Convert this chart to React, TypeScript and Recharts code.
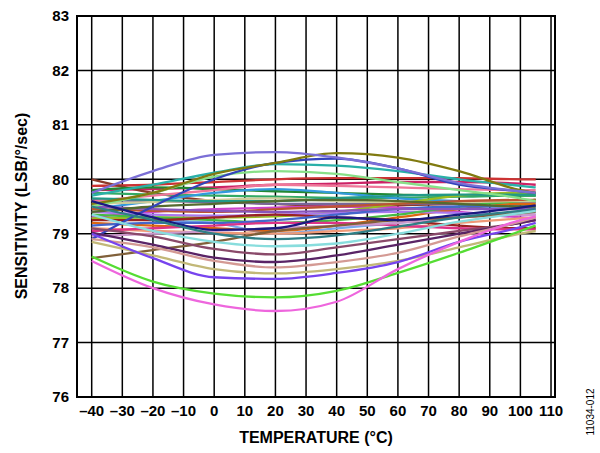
import React from "react";
import { LineChart, Line, XAxis, YAxis, CartesianGrid, ReferenceArea } from "recharts";

const TEMPS = [-40, -20, 0, 20, 40, 60, 80, 100, 105];
const X_TICKS = [-40, -30, -20, -10, 0, 10, 20, 30, 40, 50, 60, 70, 80, 90, 100, 110];
const Y_TICKS = [76, 77, 78, 79, 80, 81, 82, 83];

// series values at TEMPS
const pink = [78.5, 78.0, 77.7, 77.58, 77.75, 78.35, 78.85, 79.25, 79.32];
const green = [78.58, 78.12, 77.9, 77.83, 77.95, 78.28, 78.65, 79.05, 79.15];
const violet = [79.0, 78.55, 78.2, 78.17, 78.28, 78.48, 78.85, 79.12, 79.2];
const tan = [78.85, 78.6, 78.35, 78.27, 78.35, 78.5, 78.75, 79.0, 79.05];
const rosy = [78.9, 78.75, 78.5, 78.38, 78.48, 78.65, 78.95, 79.22, 79.3];
const darkPurple = [79.02, 78.8, 78.56, 78.48, 78.6, 78.8, 79.0, 79.2, 79.25];
const mauve = [79.1, 78.95, 78.72, 78.62, 78.75, 78.9, 79.05, 79.2, 79.25];
const lightCyan = [79.35, 79.05, 78.85, 78.77, 78.82, 79.0, 79.22, 79.38, 79.42];
const darkTeal = [79.5, 79.25, 79.0, 78.9, 78.97, 79.13, 79.3, 79.42, 79.45];
const brown = [78.55, 78.7, 78.85, 79.05, 79.15, 79.25, 79.3, 79.38, 79.4];
const navy = [79.6, 79.3, 79.07, 79.1, 79.3, 79.25, 79.35, 79.48, 79.52];
const lavender = [79.75, 80.15, 80.45, 80.5, 80.4, 80.2, 79.93, 79.78, 79.75];
const olive = [79.55, 79.75, 80.1, 80.3, 80.48, 80.4, 80.15, 79.8, 79.75];
const teal = [79.7, 79.9, 80.12, 80.28, 80.25, 80.15, 80.0, 79.88, 79.85];
const lightGreen = [79.5, 79.75, 80.05, 80.15, 80.1, 79.95, 79.8, 79.65, 79.6];
const royal = [78.9, 79.5, 80.0, 80.3, 80.38, 80.2, 79.9, 79.78, 79.75];
const red = [79.88, 79.9, 79.95, 80.0, 80.02, 80.02, 80.02, 80.0, 80.0];
const crimson = [79.8, 79.82, 79.85, 79.9, 79.92, 79.95, 79.95, 79.92, 79.9];
const maroon = [80.0, 79.75, 79.6, 79.55, 79.5, 79.52, 79.55, 79.6, 79.62];
const darkGreen = [79.8, 79.85, 79.82, 79.78, 79.75, 79.72, 79.7, 79.7, 79.7];
const seaGreen = [79.75, 79.72, 79.7, 79.68, 79.66, 79.66, 79.68, 79.7, 79.7];
const skyBlue = [79.45, 79.6, 79.75, 79.82, 79.75, 79.65, 79.6, 79.58, 79.58];
const lightBlue = [79.3, 79.25, 79.2, 79.0, 79.1, 79.2, 79.3, 79.4, 79.42];
const grayPurple = [79.62, 79.6, 79.58, 79.55, 79.55, 79.55, 79.56, 79.58, 79.58];
const magenta = [79.3, 79.4, 79.45, 79.48, 79.5, 79.48, 79.4, 79.3, 79.28];
const orange = [79.2, 79.15, 79.1, 79.05, 79.15, 79.3, 79.45, 79.55, 79.55];
const salmon = [79.1, 79.05, 79.02, 79.0, 79.05, 79.1, 79.2, 79.28, 79.3];
const yellowGreen = [79.28, 79.3, 79.3, 79.32, 79.4, 79.55, 79.7, 79.75, 79.75];
const rose = [79.6, 79.7, 79.8, 79.9, 79.88, 79.85, 79.82, 79.8, 79.8];
const lilac = [79.4, 79.35, 79.33, 79.35, 79.38, 79.4, 79.38, 79.35, 79.35];
const green2 = [79.35, 79.3, 79.25, 79.2, 79.25, 79.35, 79.5, 79.6, 79.62];
const darkRed = [79.25, 79.25, 79.3, 79.35, 79.3, 79.25, 79.15, 79.1, 79.1];
const khaki = [79.55, 79.58, 79.62, 79.65, 79.6, 79.58, 79.58, 79.6, 79.6];
const teal2 = [79.65, 79.62, 79.6, 79.6, 79.65, 79.7, 79.72, 79.72, 79.72];
const blue2 = [79.15, 79.2, 79.2, 79.25, 79.35, 79.45, 79.5, 79.5, 79.5];
const brick = [79.45, 79.42, 79.4, 79.45, 79.5, 79.55, 79.6, 79.62, 79.62];
const mediumPurple = [79.5, 79.45, 79.42, 79.4, 79.42, 79.45, 79.45, 79.45, 79.45];
const darkOlive = [79.4, 79.5, 79.55, 79.6, 79.62, 79.6, 79.55, 79.5, 79.5];
const hotPink = [79.05, 79.1, 79.15, 79.2, 79.2, 79.15, 79.1, 79.08, 79.08];
const plum = [78.95, 79.0, 79.05, 79.1, 79.15, 79.2, 79.3, 79.35, 79.35];

const SERIES: [string, number[], string][] = [
  ["red", red, "#cc3333"],
  ["crimson", crimson, "#cc2266"],
  ["maroon", maroon, "#8b3a2a"],
  ["darkGreen", darkGreen, "#228833"],
  ["seaGreen", seaGreen, "#33aa66"],
  ["skyBlue", skyBlue, "#3399dd"],
  ["lightBlue", lightBlue, "#77aaee"],
  ["grayPurple", grayPurple, "#776699"],
  ["magenta", magenta, "#cc44cc"],
  ["orange", orange, "#dd6611"],
  ["salmon", salmon, "#ee9977"],
  ["yellowGreen", yellowGreen, "#99bb22"],
  ["rose", rose, "#ee7799"],
  ["lilac", lilac, "#aa77ee"],
  ["green2", green2, "#44bb44"],
  ["darkRed", darkRed, "#992222"],
  ["khaki", khaki, "#cccc99"],
  ["teal2", teal2, "#229988"],
  ["blue2", blue2, "#4466cc"],
  ["brick", brick, "#bb5533"],
  ["mediumPurple", mediumPurple, "#8855bb"],
  ["darkOlive", darkOlive, "#556b2f"],
  ["hotPink", hotPink, "#dd3388"],
  ["plum", plum, "#cc99cc"],
  ["lightGreen", lightGreen, "#88e088"],
  ["teal", teal, "#2ab0a8"],
  ["royal", royal, "#3344bb"],
  ["olive", olive, "#807a10"],
  ["lavender", lavender, "#7b6fd6"],
  ["brown", brown, "#80603a"],
  ["navy", navy, "#1a1a80"],
  ["darkTeal", darkTeal, "#2f7f86"],
  ["lightCyan", lightCyan, "#88dddd"],
  ["mauve", mauve, "#8a4a6a"],
  ["darkPurple", darkPurple, "#5a2466"],
  ["rosy", rosy, "#d49a94"],
  ["tan", tan, "#c2b878"],
  ["violet", violet, "#7744ee"],
  ["green", green, "#55dd33"],
  ["pink", pink, "#ee66dd"],
];

const data = TEMPS.map((t, i) => {
  const row: Record<string, number> = { t };
  SERIES.forEach(([name, vals]) => {
    row[name] = vals[i];
  });
  return row;
});

const FONT = '"Liberation Sans", Arial, Helvetica, sans-serif';
const X_MIN = -44.8;
const X_MAX = 111.3;

const fmt = (v: number) => String(v).replace("-", "\u2013");

export default function App() {
  return (
    <div style={{ position: "absolute", left: 0, top: 0, width: 600, height: 453, background: "#fff", fontFamily: FONT }}>
      <LineChart
        width={600}
        height={453}
        data={data}
        margin={{ top: 16, right: 45, bottom: 26, left: 37 }}
      >
        <CartesianGrid stroke="#000" strokeWidth={1.5} horizontalValues={Y_TICKS} verticalValues={X_TICKS} />
        <XAxis
          dataKey="t"
          type="number"
          domain={[X_MIN, X_MAX]}
          ticks={X_TICKS}
          tickFormatter={fmt}
          tickLine={false}
          axisLine={false}
          height={30}
          interval={0}
          allowDataOverflow
          tick={{ fill: "#000", fontSize: 15, fontWeight: 700, fontFamily: FONT }}
        />
        <YAxis
          type="number"
          domain={[76, 83]}
          ticks={Y_TICKS}
          tickLine={false}
          axisLine={false}
          width={40}
          interval={0}
          allowDataOverflow
          tick={{ fill: "#000", fontSize: 15, fontWeight: 700, fontFamily: FONT }}
        />
        {SERIES.map(([name, , color]) => (
          <Line
            key={name}
            dataKey={name}
            type="monotone"
            stroke={color}
            strokeWidth={2.3}
            dot={false}
            activeDot={false}
            isAnimationActive={false}
          />
        ))}
        <ReferenceArea x1={X_MIN} x2={X_MAX} y1={76} y2={83} fill="none" stroke="#000" strokeWidth={2} fillOpacity={0} />
      </LineChart>
      <div
        style={{
          position: "absolute",
          left: 22,
          top: 206,
          transform: "translate(-50%, -50%) rotate(-90deg)",
          whiteSpace: "nowrap",
          fontSize: 16,
          fontWeight: 700,
          color: "#000",
        }}
      >
        SENSITIVITY (LSB/°/sec)
      </div>
      <div
        style={{
          position: "absolute",
          left: 316,
          top: 438,
          transform: "translate(-50%, -50%)",
          whiteSpace: "nowrap",
          fontSize: 16,
          fontWeight: 700,
          color: "#000",
        }}
      >
        TEMPERATURE (°C)
      </div>
      <div
        style={{
          position: "absolute",
          left: 590,
          top: 412,
          transform: "translate(-50%, -50%) rotate(-90deg)",
          whiteSpace: "nowrap",
          fontSize: 10,
          color: "#000",
        }}
      >
        11034-012
      </div>
    </div>
  );
}
